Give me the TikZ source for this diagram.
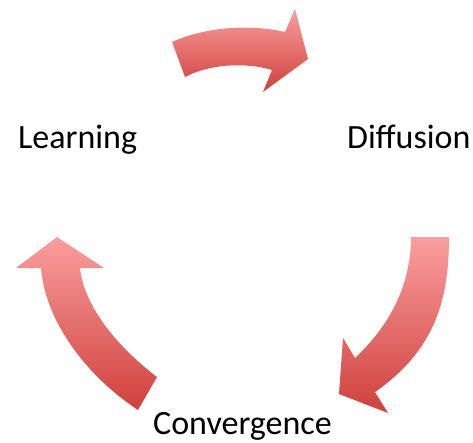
\documentclass[tikz,border=0pt]{standalone}
\usepackage{fontspec}
\setmainfont{Carlito}
\definecolor{arrowlight}{RGB}{250,158,158}
\definecolor{arrowdark}{RGB}{207,64,60}
\tikzset{
  label/.style={inner sep=0pt, anchor=base west, font=\fontsize{34}{40}\selectfont},
  bigarrow/.style={top color=arrowlight, bottom color=arrowdark, draw=none}
}
\begin{document}
\begin{tikzpicture}[x=1pt,y=-1pt]
\useasboundingbox (0,0) rectangle (473,442);
\node[label] (learn) at (18,148) {Learning};
\node[label] (diff) at (347,148) {Diffusion};
\node[label] (conv) at (153,434) {Convergence};
% top arrow: Learning -> Diffusion
\shade[bigarrow] (172,42) .. controls (210,25) and (255,25) .. (285,32)
  -- (295,9) -- (308,59) -- (263,92) -- (272,70)
  .. controls (245,62) and (210,64) .. (185,77) -- cycle;
% right arrow: Diffusion -> Convergence
\shade[bigarrow] (411,237) -- (449,237)
  .. controls (449,300) and (435,350) .. (375,392)
  -- (388,413) -- (339,394) -- (343,338) -- (355,358)
  .. controls (385,330) and (411,290) .. (411,237) -- cycle;
% left arrow: Convergence -> Learning
\shade[bigarrow] (157,377) -- (138,410)
  .. controls (85,375) and (45,320) .. (41,268)
  -- (16,268) -- (57,237) -- (104,268) -- (80,268)
  .. controls (84,305) and (115,345) .. (157,377) -- cycle;
\end{tikzpicture}
\end{document}
